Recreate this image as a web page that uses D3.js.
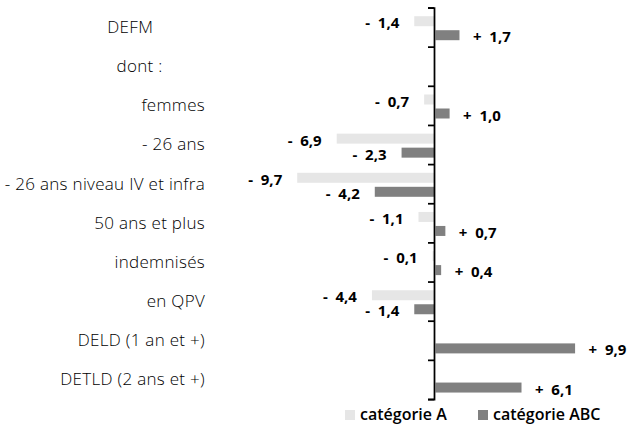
<!DOCTYPE html>
<html><head><meta charset="utf-8">
<script src="https://cdn.jsdelivr.net/npm/d3@7"></script>
<style>
html,body{margin:0;padding:0;background:#fff;}
svg{display:block;}
text{white-space:pre;}
</style></head>
<body>
<svg id="chart" width="631" height="424"></svg>
<script>
const categories = ["DEFM           ", "dont :         ", "femmes", "- 26 ans", "- 26 ans niveau IV et infra", "50 ans et plus", "indemnisés", "en QPV", "DELD (1 an et +)", "DETLD (2 ans et +)"];
const seriesNames = ["catégorie A", "catégorie ABC"];
const valuesA = [-1.4, null, -0.7, -6.9, -9.7, -1.1, -0.1, -4.4, null, null];
const valuesABC = [1.7, null, 1.0, -2.3, -4.2, 0.7, 0.4, -1.4, 9.9, 6.1];
const colors = ["#e6e6e6", "#808080"];

const svg = d3.select("#chart");
const x = d3.scaleLinear().domain([-10, 10]).range([293, 575]);
const y = d3.scaleBand().domain(categories).range([7.5, 399]).paddingInner(0).paddingOuter(0);
const ySub = d3.scaleBand().domain(seriesNames).range([8.7, 32.7]).paddingInner(4/14).paddingOuter(0);
const yLin = d3.scaleLinear().domain([0, categories.length]).range([7.5, 399]);

const rows = [];
categories.forEach((c, i) => {
  [valuesA, valuesABC].forEach((arr, s) => {
    if (arr[i] !== null) rows.push({cat: c, series: seriesNames[s], s, v: arr[i]});
  });
});

const fmt = v => (v < 0 ? "-" : "+") + "  " + d3.format(".1f")(Math.abs(v)).replace(".", ",");

// bars
svg.append("g").selectAll("rect").data(rows).join("rect")
  .attr("x", d => d.v < 0 ? x(d.v) : x(0) + 1.5)
  .attr("width", d => d.v < 0 ? x(0) - x(d.v) : x(d.v) - x(0))
  .attr("y", d => y(d.cat) + ySub(d.series))
  .attr("height", ySub.bandwidth())
  .attr("fill", d => colors[d.s]);

// value labels
svg.append("g").selectAll("text").data(rows).join("text")
  .attr("x", d => d.v < 0 ? x(d.v) - 15 : x(d.v) + 15)
  .attr("y", d => y(d.cat) + ySub(d.series) + ySub.bandwidth() / 2 + 7)
  .attr("text-anchor", d => d.v < 0 ? "end" : "start")
  .attr("font-family", "'Open Sans', sans-serif")
  .attr("font-weight", 700)
  .attr("font-size", 15)
  .attr("fill", "#000")
  .text(d => fmt(d.v));

// axis
const axis = d3.axisLeft(yLin).ticks(categories.length).tickSizeInner(6).tickSizeOuter(6).tickFormat("");
const gAx = svg.append("g").attr("transform", `translate(${x(0)},0)`).call(axis);
gAx.selectAll("path, line").attr("stroke", "#000").attr("stroke-width", 1.75);

// category labels
svg.append("g").selectAll("text").data(categories).join("text")
  .attr("x", 205)
  .attr("y", d => y(d) + y.bandwidth() / 2)
  .attr("dy", "0.35em")
  .attr("text-anchor", "end")
  .attr("font-family", "'Open Sans', sans-serif")
  .attr("font-weight", 300)
  .attr("font-size", 17)
  .attr("letter-spacing", 0.3)
  .attr("fill", "#000")
  .text(d => d);

// legend
const legX = [345, 478];
const leg = svg.append("g").selectAll("g").data(seriesNames).join("g")
  .attr("transform", (d, i) => `translate(${legX[i]},410)`);
leg.append("rect").attr("width", 10).attr("height", 10).attr("fill", (d, i) => colors[i]);
leg.append("text").attr("x", 15).attr("y", 9.5)
  .attr("font-family", "'Open Sans', sans-serif")
  .attr("font-weight", 600)
  .attr("font-size", 16)
  .attr("fill", "#000")
  .text(d => d);
</script>
</body></html>
